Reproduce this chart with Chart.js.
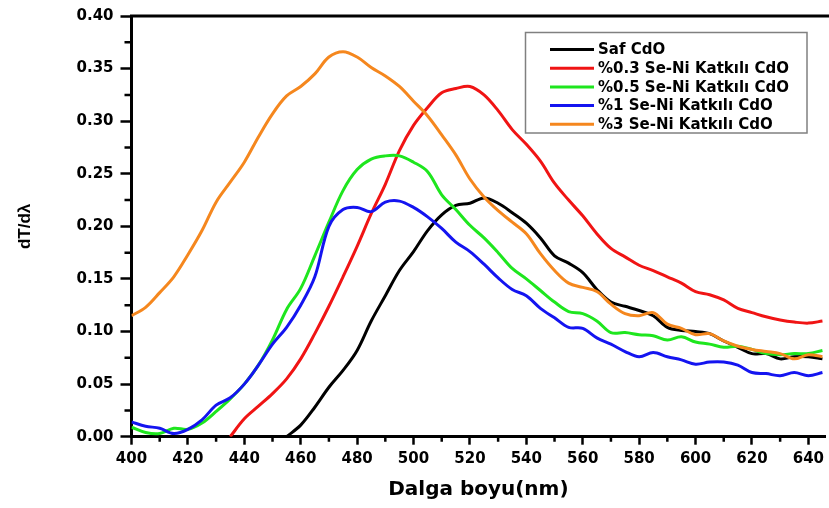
<!DOCTYPE html>
<html>
<head>
<meta charset="utf-8">
<script src="https://cdn.jsdelivr.net/npm/chart.js@4.4.1/dist/chart.umd.min.js"></script>
<style>
  html, body { margin: 0; padding: 0; background: #fff; }
  #wrap { width: 829px; height: 508px; }
</style>
</head>
<body>
<div id="wrap"><canvas id="myChart" width="829" height="508"></canvas></div>
<script>
// wavelength grid (nm)
const wavelength = [400, 405, 410, 415, 420, 425, 430, 435, 440, 445,
  450, 455, 460, 465, 470, 475, 480, 485, 490, 495,
  500, 505, 510, 515, 520, 525, 530, 535, 540, 545,
  550, 555, 560, 565, 570, 575, 580, 585, 590, 595,
  600, 605, 610, 615, 620, 625, 630, 635, 640, 645]

const seriesLabels = ['Saf CdO', '%0.3 Se-Ni Katkılı CdO', '%0.5 Se-Ni Katkılı CdO', '%1 Se-Ni Katkılı CdO', '%3 Se-Ni Katkılı CdO']
const seriesColors = ['#000000', '#f01414', '#1ee61e', '#1414f0', '#f5871e']

// dT/dλ values
const safCdO = [null, null, null, null, null, null, null, null, null, null,
  null, 0.000, 0.011, 0.028, 0.047, 0.063, 0.082, 0.110, 0.134, 0.158,
  0.176, 0.196, 0.211, 0.220, 0.222, 0.227, 0.222, 0.213, 0.203, 0.189,
  0.172, 0.165, 0.156, 0.140, 0.128, 0.124, 0.120, 0.115, 0.104, 0.101,
  0.100, 0.098, 0.091, 0.085, 0.079, 0.079, 0.074, 0.076, 0.076, 0.074]
const seNi03 = [null, null, null, null, null, null, null, 0.000, 0.017, 0.029,
  0.041, 0.055, 0.074, 0.098, 0.124, 0.152, 0.181, 0.212, 0.240, 0.272,
  0.296, 0.313, 0.327, 0.331, 0.333, 0.325, 0.310, 0.292, 0.278, 0.262,
  0.241, 0.225, 0.210, 0.193, 0.179, 0.171, 0.163, 0.158, 0.152, 0.146,
  0.138, 0.135, 0.130, 0.122, 0.118, 0.114, 0.111, 0.109, 0.108, 0.110]
const seNi05 = [0.009, 0.004, 0.003, 0.008, 0.007, 0.013, 0.024, 0.036, 0.050, 0.068,
  0.092, 0.121, 0.141, 0.172, 0.204, 0.234, 0.254, 0.264, 0.267, 0.267,
  0.261, 0.252, 0.230, 0.216, 0.201, 0.189, 0.175, 0.160, 0.150, 0.139,
  0.128, 0.119, 0.117, 0.110, 0.099, 0.099, 0.097, 0.096, 0.092, 0.095,
  0.090, 0.088, 0.085, 0.086, 0.083, 0.079, 0.078, 0.079, 0.079, 0.082]
const seNi1 = [0.014, 0.010, 0.008, 0.003, 0.007, 0.016, 0.030, 0.037, 0.050, 0.068,
  0.088, 0.104, 0.125, 0.152, 0.200, 0.216, 0.218, 0.214, 0.223, 0.224,
  0.218, 0.209, 0.198, 0.185, 0.176, 0.164, 0.151, 0.140, 0.134, 0.122,
  0.113, 0.104, 0.103, 0.094, 0.088, 0.081, 0.076, 0.080, 0.076, 0.073,
  0.069, 0.071, 0.071, 0.068, 0.061, 0.060, 0.058, 0.061, 0.058, 0.061]
const seNi3 = [0.115, 0.123, 0.137, 0.152, 0.173, 0.196, 0.223, 0.242, 0.261, 0.285,
  0.307, 0.324, 0.333, 0.345, 0.361, 0.366, 0.361, 0.351, 0.343, 0.333,
  0.319, 0.305, 0.287, 0.268, 0.245, 0.228, 0.215, 0.204, 0.193, 0.174,
  0.158, 0.146, 0.142, 0.138, 0.126, 0.117, 0.115, 0.118, 0.107, 0.103,
  0.097, 0.098, 0.091, 0.086, 0.083, 0.081, 0.079, 0.074, 0.078, 0.076]

const yTicks = [0, 0.05, 0.10, 0.15, 0.20, 0.25, 0.30, 0.35, 0.40]
const xTicks = [400, 420, 440, 460, 480, 500, 520, 540, 560, 580, 600, 620, 640]

const allSeries = [safCdO, seNi03, seNi05, seNi1, seNi3]
const tickFont = { family: 'DejaVu Sans', size: 15, weight: 'bold' }

// top frame line + minor ticks
const framePlugin = {
  id: 'frame',
  afterDraw(chart) {
    const { ctx, chartArea } = chart
    const x = chart.scales.x, y = chart.scales.y
    ctx.save()
    ctx.strokeStyle = '#000'
    ctx.lineWidth = 3
    ctx.beginPath()
    ctx.moveTo(chartArea.left - 1.5, chartArea.top)
    ctx.lineTo(chart.width, chartArea.top)
    ctx.stroke()
    ctx.lineWidth = 2.5
    ctx.beginPath()
    for (let v = 0.025; v < 0.4; v += 0.05) {
      const py = y.getPixelForValue(v)
      ctx.moveTo(chartArea.left - 7, py)
      ctx.lineTo(chartArea.left, py)
    }
    for (let v = 410; v < 646; v += 20) {
      const px = x.getPixelForValue(v)
      ctx.moveTo(px, chartArea.bottom)
      ctx.lineTo(px, chartArea.bottom + 5)
    }
    ctx.stroke()
    ctx.restore()
  }
}

// boxed legend in the upper right
const legendPlugin = {
  id: 'boxLegend',
  afterDraw(chart) {
    const { ctx } = chart
    ctx.save()
    ctx.strokeStyle = '#808080'
    ctx.lineWidth = 1.5
    ctx.fillStyle = '#fff'
    ctx.fillRect(525.5, 32.5, 281.5, 100.5)
    ctx.strokeRect(525.5, 32.5, 281.5, 100.5)
    ctx.font = 'bold 15px "DejaVu Sans"'
    ctx.textBaseline = 'middle'
    chart.data.datasets.forEach((ds, i) => {
      const ly = 49.5 + i * 18.7
      ctx.strokeStyle = ds.borderColor
      ctx.lineWidth = 3
      ctx.beginPath()
      ctx.moveTo(550, ly)
      ctx.lineTo(594, ly)
      ctx.stroke()
      ctx.fillStyle = '#000'
      ctx.fillText(ds.label, 598, ly + 1)
    })
    ctx.restore()
  }
}

const ctx = document.getElementById('myChart').getContext('2d')
const chart = new Chart(ctx, {
  type: 'line',
  data: {
    datasets: allSeries.map((values, i) => ({
      label: seriesLabels[i],
      data: wavelength.map((w, k) => ({ x: w, y: values[k] })),
      borderColor: seriesColors[i],
      borderWidth: 3,
      pointRadius: 0,
      tension: 0.35,
      fill: false,
      order: allSeries.length - i
    }))
  },
  options: {
    responsive: false,
    animation: false,
    layout: { padding: { top: 12.7, right: 0, left: 0, bottom: 0 } },
    plugins: {
      legend: { display: false },
      tooltip: { enabled: false }
    },
    scales: {
      x: {
        type: 'linear',
        min: 400,
        max: 646,
        afterFit: s => { s.height = 71.3 },
        afterBuildTicks: s => { s.ticks = xTicks.map(v => ({ value: v })) },
        ticks: { font: tickFont, color: '#000', padding: 5, maxRotation: 0, includeBounds: false },
        grid: { drawOnChartArea: false, tickLength: 8, tickWidth: 2.5, tickColor: '#000' },
        border: { width: 3, color: '#000' },
        title: {
          display: true,
          text: 'Dalga boyu(nm)',
          color: '#000',
          font: { family: 'DejaVu Sans', size: 20, weight: 'bold' },
          padding: { top: 0, bottom: 6 }
        }
      },
      y: {
        min: 0,
        max: 0.4,
        afterFit: s => { s.width = 131.5 },
        afterBuildTicks: s => { s.ticks = yTicks.map(v => ({ value: v })) },
        ticks: { font: tickFont, color: '#000', padding: 7, callback: v => v.toFixed(2) },
        grid: { drawOnChartArea: false, tickLength: 11, tickWidth: 2.5, tickColor: '#000' },
        border: { width: 3, color: '#000' },
        title: {
          display: true,
          text: 'dT/dλ',
          color: '#000',
          font: { family: 'Liberation Sans', size: 17, weight: 'bold' },
          padding: { top: 15, bottom: 0 }
        }
      }
    }
  },
  plugins: [framePlugin, legendPlugin]
})
</script>
</body>
</html>
